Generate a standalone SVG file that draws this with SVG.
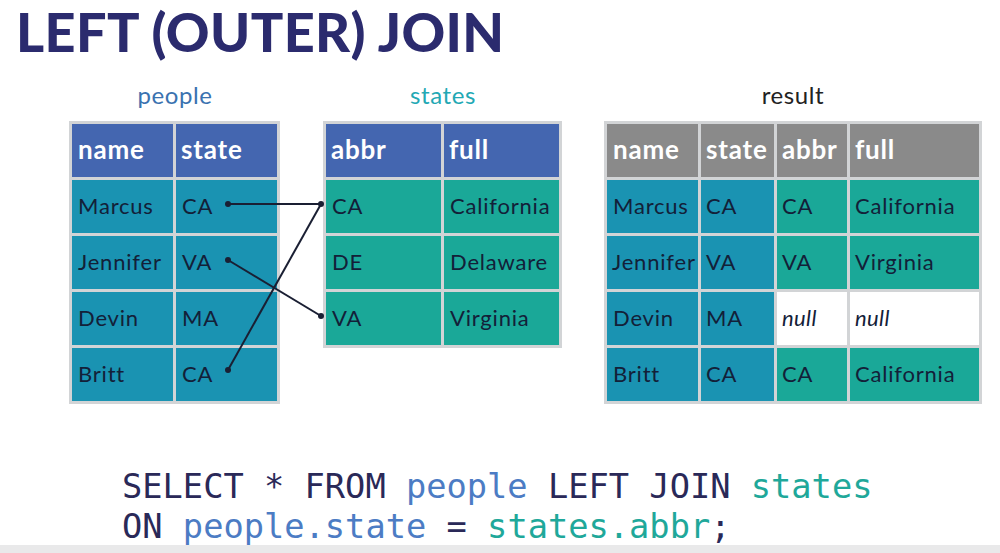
<svg xmlns="http://www.w3.org/2000/svg" width="1000" height="553" viewBox="0 0 1000 553">
<style>
.title{font-family:Lato,"Noto Sans",sans-serif;font-weight:900;font-size:54px;letter-spacing:0.4px;fill:#2b2b6e}
.lbl{font-family:Lato,"Noto Sans",sans-serif;font-size:24px;letter-spacing:0.6px;text-anchor:middle}
.frame{fill:#d2d4d6}
.hb{fill:#4466b0}
.hg{fill:#8a8a8a}
.cp{fill:#1a93b2}
.cs{fill:#1aa898}
.cw{fill:#ffffff}
.ht{font-family:Lato,"Noto Sans",sans-serif;font-weight:700;font-size:26px;letter-spacing:0.8px;fill:#ffffff}
.ct{font-family:Lato,"Noto Sans",sans-serif;font-size:22px;letter-spacing:0.8px;fill:#132038}
.it{font-style:italic;letter-spacing:0.4px}
.code{font-family:"DejaVu Sans Mono",monospace;font-size:33.7px;fill:#2a2958}
.cb{fill:#4c7cc4}
.cg{fill:#1fa89a}
.conn{stroke:#1a1f33;stroke-width:2;fill:none}
.dot{fill:#1a1f33}
</style>
<rect width="1000" height="553" fill="#ffffff"/>
<rect y="545" width="1000" height="8" fill="#e9e9ea"/>
<g id="title"><text class="title" x="16" y="52">LEFT (OUTER) JOIN</text></g>

<g id="people">
<text class="lbl" x="175" y="104" fill="#3a72b0">people</text>
<rect class="frame" x="69" y="121" width="211" height="283"/>
<rect class="hb" x="72" y="124" width="101" height="53"/><rect class="hb" x="176" y="124" width="101" height="53"/>
<rect class="cp" x="72" y="180" width="101" height="53"/><rect class="cp" x="176" y="180" width="101" height="53"/>
<rect class="cp" x="72" y="236" width="101" height="53"/><rect class="cp" x="176" y="236" width="101" height="53"/>
<rect class="cp" x="72" y="292" width="101" height="53"/><rect class="cp" x="176" y="292" width="101" height="53"/>
<rect class="cp" x="72" y="348" width="101" height="53"/><rect class="cp" x="176" y="348" width="101" height="53"/>
<text class="ht" x="78" y="159">name</text><text class="ht" x="181" y="159">state</text>
<text class="ct" x="78" y="214">Marcus</text><text class="ct" x="182" y="214">CA</text>
<text class="ct" x="78" y="270">Jennifer</text><text class="ct" x="182" y="270">VA</text>
<text class="ct" x="78" y="326">Devin</text><text class="ct" x="182" y="326">MA</text>
<text class="ct" x="78" y="382">Britt</text><text class="ct" x="182" y="382">CA</text>
</g>

<g id="states">
<text class="lbl" x="443" y="104" fill="#22a8b4">states</text>
<rect class="frame" x="323" y="121" width="239" height="227"/>
<rect class="hb" x="326" y="124" width="115" height="53"/><rect class="hb" x="444" y="124" width="115" height="53"/>
<rect class="cs" x="326" y="180" width="115" height="53"/><rect class="cs" x="444" y="180" width="115" height="53"/>
<rect class="cs" x="326" y="236" width="115" height="53"/><rect class="cs" x="444" y="236" width="115" height="53"/>
<rect class="cs" x="326" y="292" width="115" height="53"/><rect class="cs" x="444" y="292" width="115" height="53"/>
<text class="ht" x="331" y="159">abbr</text><text class="ht" x="449" y="159">full</text>
<text class="ct" x="332" y="214">CA</text><text class="ct" x="450" y="214">California</text>
<text class="ct" x="332" y="270">DE</text><text class="ct" x="450" y="270">Delaware</text>
<text class="ct" x="332" y="326">VA</text><text class="ct" x="450" y="326">Virginia</text>
</g>

<g id="result">
<text class="lbl" x="793" y="104" fill="#222222">result</text>
<rect class="frame" x="604" y="121" width="378" height="283"/>
<rect class="hg" x="607" y="124" width="91" height="53"/><rect class="hg" x="701" y="124" width="73" height="53"/><rect class="hg" x="777" y="124" width="70" height="53"/><rect class="hg" x="850" y="124" width="129" height="53"/>
<rect class="cp" x="607" y="180" width="91" height="53"/><rect class="cp" x="701" y="180" width="73" height="53"/><rect class="cs" x="777" y="180" width="70" height="53"/><rect class="cs" x="850" y="180" width="129" height="53"/>
<rect class="cp" x="607" y="236" width="91" height="53"/><rect class="cp" x="701" y="236" width="73" height="53"/><rect class="cs" x="777" y="236" width="70" height="53"/><rect class="cs" x="850" y="236" width="129" height="53"/>
<rect class="cp" x="607" y="292" width="91" height="53"/><rect class="cp" x="701" y="292" width="73" height="53"/><rect class="cw" x="777" y="292" width="70" height="53"/><rect class="cw" x="850" y="292" width="129" height="53"/>
<rect class="cp" x="607" y="348" width="91" height="53"/><rect class="cp" x="701" y="348" width="73" height="53"/><rect class="cs" x="777" y="348" width="70" height="53"/><rect class="cs" x="850" y="348" width="129" height="53"/>
<text class="ht" x="613" y="159">name</text><text class="ht" x="706" y="159">state</text><text class="ht" x="782" y="159">abbr</text><text class="ht" x="855" y="159">full</text>
<text class="ct" x="613" y="214">Marcus</text><text class="ct" x="706" y="214">CA</text><text class="ct" x="782" y="214">CA</text><text class="ct" x="855" y="214">California</text>
<text class="ct" x="612" y="270" letter-spacing="0.3">Jennifer</text><text class="ct" x="706" y="270">VA</text><text class="ct" x="782" y="270">VA</text><text class="ct" x="855" y="270">Virginia</text>
<text class="ct" x="613" y="326">Devin</text><text class="ct" x="706" y="326">MA</text><text class="ct it" x="782" y="326">null</text><text class="ct it" x="855" y="326">null</text>
<text class="ct" x="613" y="382">Britt</text><text class="ct" x="706" y="382">CA</text><text class="ct" x="782" y="382">CA</text><text class="ct" x="855" y="382">California</text>
</g>

<g id="connectors">
<line class="conn" x1="228" y1="204" x2="321" y2="204"/>
<line class="conn" x1="228" y1="370" x2="321" y2="204"/>
<line class="conn" x1="228" y1="260" x2="321" y2="316"/>
<circle class="dot" cx="228" cy="204" r="3"/>
<circle class="dot" cx="228" cy="260" r="3"/>
<circle class="dot" cx="228" cy="370" r="3"/>
<circle class="dot" cx="321" cy="204" r="3"/>
<circle class="dot" cx="321" cy="316" r="3"/>
</g>

<g id="sql">
<text class="code" x="122" y="498">SELECT * FROM <tspan class="cb">people</tspan> LEFT JOIN <tspan class="cg">states</tspan></text>
<text class="code" x="122" y="538">ON <tspan class="cb">people.state</tspan> = <tspan class="cg">states.abbr</tspan>;</text>
</g>
</svg>
